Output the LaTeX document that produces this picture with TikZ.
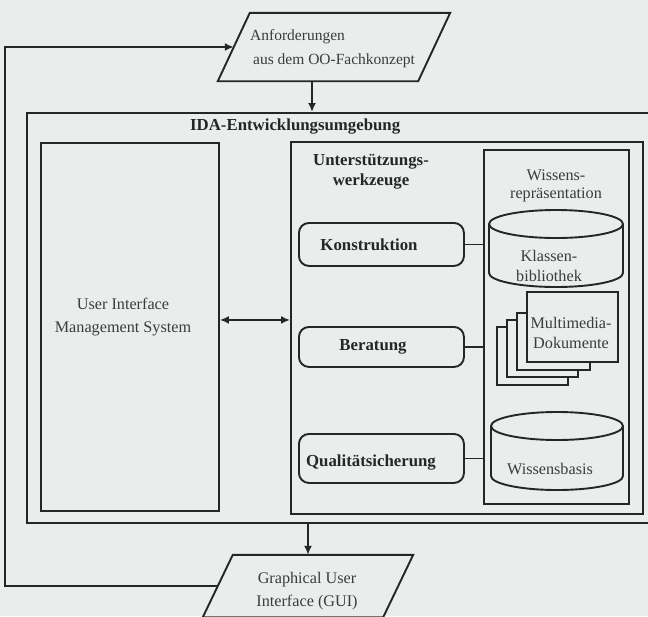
\documentclass[tikz,border=0pt]{standalone}
\usepackage{fontspec}
\setmainfont{Liberation Serif}
\usetikzlibrary{arrows.meta,calc}
\definecolor{bgc}{RGB}{233,237,235}
\definecolor{ink}{RGB}{38,38,38}
\definecolor{txt}{RGB}{60,60,60}
\newcommand\dbcyl[4]{%
  \draw[line, fill=bgc] (#1-#2,#3+14) -- (#1-#2,#4-14) arc[start angle=180, end angle=360, x radius=#2pt, y radius=14pt] -- (#1+#2,#3+14);
  \draw[line] (#1,#3+14) ellipse[x radius=#2pt, y radius=14pt];}
\begin{document}
\begin{tikzpicture}[x=1pt,y=-1pt,
  line/.style={draw=ink, line width=1.9pt},
  boxn/.style={line, rectangle, inner sep=0pt, anchor=north west},
  rbox/.style={line, rectangle, rounded corners=10pt, inner sep=0pt, anchor=north west},
  reg/.style={font=\fontsize{16.2}{20}\selectfont, text=txt, align=center, inner sep=0pt},
  bld/.style={font=\fontsize{16.8}{20}\selectfont\bfseries, text=ink, align=center, inner sep=0pt},
  arr/.style={line, -{Latex[length=9pt,width=8pt]}},
  dbl/.style={line, {Latex[length=9pt,width=8pt]}-{Latex[length=9pt,width=8pt]}}
]
\useasboundingbox (0,0) rectangle (648,616);
\fill[bgc] (0,0) rectangle (648,616);
\clip (0,0) rectangle (648,616);

% outer development environment
\node[boxn, minimum width=700, minimum height=410] (ida) at (26,112) {};
\node[bld, anchor=west] (idat) at (190,127) {IDA-Entwicklungsumgebung};

% UIMS
\node[boxn, minimum width=178, minimum height=368] (uims) at (40,142) {};
\node[reg, font=\fontsize{16.2}{23}\selectfont] (uimst) at (123,317) {User Interface\\Management System};

% support tools
\node[boxn, minimum width=352, minimum height=372] (unt) at (290,141) {};
\node[bld] (untt) at (371,172) {Unterstützungs-\\werkzeuge};

\node[rbox, minimum width=165, minimum height=43] (kon) at (298,222) {};
\node[bld] (kont) at (369,245) {Konstruktion};
\node[rbox, minimum width=165, minimum height=40] (ber) at (298,326) {};
\node[bld] (bert) at (373,347) {Beratung};
\node[rbox, minimum width=165, minimum height=49] (qua) at (298,433) {};
\node[bld] (quat) at (371,463) {Qualitätsicherung};

% knowledge representation
\node[boxn, minimum width=145, minimum height=354] (wis) at (483,149) {};
\node[reg, font=\fontsize{16.2}{18}\selectfont] (wist) at (556,186) {Wissens-\\repräsentation};

\dbcyl{556}{67}{210}{287}
\node[reg] (klt) at (549,266) {Klassen-\\bibliothek};

\draw[line, fill=bgc] (497,327) rectangle (568,385);
\draw[line, fill=bgc] (507,320) rectangle (578,377);
\draw[line, fill=bgc] (517,313) rectangle (590,370);
\draw[line, fill=bgc] (527,292) rectangle (618,362);
\node[reg] (mmt) at (571,333) {Multimedia-\\Dokumente};

\dbcyl{557}{66}{412}{490}
\node[reg] (wbt) at (550,469) {Wissensbasis};

% connectors inside
\draw[line] (kon.east) -- (kon.east -| wis.west);
\draw[line] (ber.east) -- (ber.east -| wis.west);
\draw[line] (qua.east) -- (qua.east -| wis.west);
\draw[dbl] ([yshift=7pt]uims.east) -- ([yshift=7pt]uims.east -| unt.west);

% requirements input
\node[minimum width=200, minimum height=68, inner sep=0pt] (anf) at (334,47) {};
\draw[line] ([xshift=-16pt]anf.south west) -- ([xshift=16pt]anf.north west) -- ([xshift=16pt]anf.north east) -- ([xshift=-16pt]anf.south east) -- cycle;
\node[reg, align=left, anchor=west, font=\fontsize{15.5}{24}\selectfont] (anft) at (250,49) {Anforderungen\\\hspace*{3pt}aus dem OO-Fachkonzept};

% GUI output
\node[minimum width=180, minimum height=62, inner sep=0pt] (gui) at (308,586) {};
\draw[line] ([xshift=-15pt]gui.south west) -- ([xshift=15pt]gui.north west) -- ([xshift=15pt]gui.north east) -- ([xshift=-15pt]gui.south east) -- cycle;
\node[reg, font=\fontsize{16.2}{23}\selectfont] (guit) at (307,591) {Graphical User\\Interface (GUI)};

% flow
\draw[arr] ([xshift=-22pt]anf.south) -- ([xshift=-22pt]anf.south |- ida.north);
\draw[arr] (gui.north |- ida.south) -- (gui.north);
\coordinate (fb) at (5,586);
\draw[arr] (gui.west) -- (fb) |- (anf.west);
\end{tikzpicture}
\end{document}
